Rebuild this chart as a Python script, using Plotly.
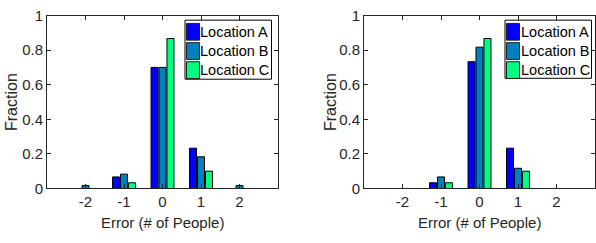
import plotly.graph_objects as go

errors = [-2, -1, 0, 1, 2]
series_names = ["Location A", "Location B", "Location C"]
colors = ["#0000ff", "#0080bf", "#00ff80"]

left_A = [0.0, 0.067, 0.70, 0.233, 0.0]
left_B = [0.017, 0.083, 0.70, 0.183, 0.017]
left_C = [0.0, 0.033, 0.867, 0.10, 0.0]

right_A = [0.0, 0.033, 0.733, 0.233, 0.0]
right_B = [0.0, 0.067, 0.817, 0.117, 0.0]
right_C = [0.0, 0.033, 0.867, 0.10, 0.0]

x_ticks = [-2, -1, 0, 1, 2]
y_ticks = [0, 0.2, 0.4, 0.6, 0.8, 1]
y_tick_labels = ["0", "0.2", "0.4", "0.6", "0.8", "1"]
x_title = "Error (# of People)"
y_title = "Fraction"

FONT = "Liberation Sans, Arial, sans-serif"
TXT = "#262626"
FS = 15

W, H = 596, 243
def px_x(p):
    return p / W
def px_y(p):
    return (H - p) / H

fig = go.Figure()
for name, col, vals in zip(series_names, colors, [left_A, left_B, left_C]):
    fig.add_trace(go.Bar(x=errors, y=vals, name=name, showlegend=False,
                         marker=dict(color=col, line=dict(color="#000000", width=1)),
                         xaxis="x", yaxis="y"))
for name, col, vals in zip(series_names, colors, [right_A, right_B, right_C]):
    fig.add_trace(go.Bar(x=errors, y=vals, name=name, showlegend=False,
                         marker=dict(color=col, line=dict(color="#000000", width=1)),
                         xaxis="x2", yaxis="y2"))

ax_common = dict(showline=True, linecolor=TXT, linewidth=1, mirror="ticks", ticks="inside",
                 ticklen=4, tickcolor=TXT, showgrid=False, zeroline=False,
                 ticklabeloverflow="allow",
                 tickfont=dict(family=FONT, size=FS, color=TXT))

xa = dict(ax_common, range=[-3, 3], tickvals=x_ticks, ticktext=[str(v) for v in x_ticks])
ya = dict(ax_common, range=[0, 1], tickvals=y_ticks, ticktext=y_tick_labels)

shapes = []
annotations = []

def add_legend(left, right, top, bottom):
    shapes.append(dict(type="rect", xref="paper", yref="paper",
                       x0=px_x(left), x1=px_x(right), y0=px_y(bottom), y1=px_y(top),
                       line=dict(color="#000000", width=1), fillcolor="white", layer="above"))
    row_centers = [top + 12.5, top + 33.2, top + 53.7]
    for name, col, cy in zip(series_names, colors, row_centers):
        shapes.append(dict(type="rect", xref="paper", yref="paper",
                           x0=px_x(left + 1.5), x1=px_x(left + 14.5),
                           y0=px_y(cy + 9), y1=px_y(cy - 9),
                           line=dict(color="#222222", width=1), fillcolor=col, layer="above"))
        annotations.append(dict(text=name, xref="paper", yref="paper",
                                x=px_x(left + 15.5), y=px_y(cy), xanchor="left", yanchor="middle",
                                showarrow=False, borderpad=0, borderwidth=0,
                                font=dict(family=FONT, size=14.5, color="#000000")))

add_legend(185, 271.5, 12, 75.5)
add_legend(505, 591.5, 12, 74.5)

for cx, ly_x in [((47 + 278) / 2, 11), ((364 + 595) / 2, 330)]:
    annotations.append(dict(text=x_title, xref="paper", yref="paper", x=px_x(cx), y=px_y(229.5),
                            xanchor="center", yanchor="middle", showarrow=False,
                            font=dict(family=FONT, size=FS, color=TXT)))
    annotations.append(dict(text=y_title, xref="paper", yref="paper", x=px_x(ly_x), y=px_y(100),
                            xanchor="center", yanchor="middle", textangle=-90, showarrow=False,
                            font=dict(family=FONT, size=FS + 1, color=TXT)))

fig.update_layout(
    width=W, height=H,
    margin=dict(l=0, r=0, t=0, b=0),
    paper_bgcolor="white", plot_bgcolor="white",
    barmode="group", bargap=0.38, bargroupgap=0.12,
    xaxis=dict(xa, domain=[px_x(47), px_x(278)], anchor="y"),
    yaxis=dict(ya, domain=[px_y(193), px_y(7)], anchor="x"),
    xaxis2=dict(xa, domain=[px_x(364), px_x(595)], anchor="y2"),
    yaxis2=dict(ya, domain=[px_y(193), px_y(7)], anchor="x2"),
    shapes=shapes,
    annotations=annotations,
)

fig.write_html("out.html", config={"displayModeBar": False},
               post_script="document.body.style.margin='0';document.body.style.overflow='hidden';")
